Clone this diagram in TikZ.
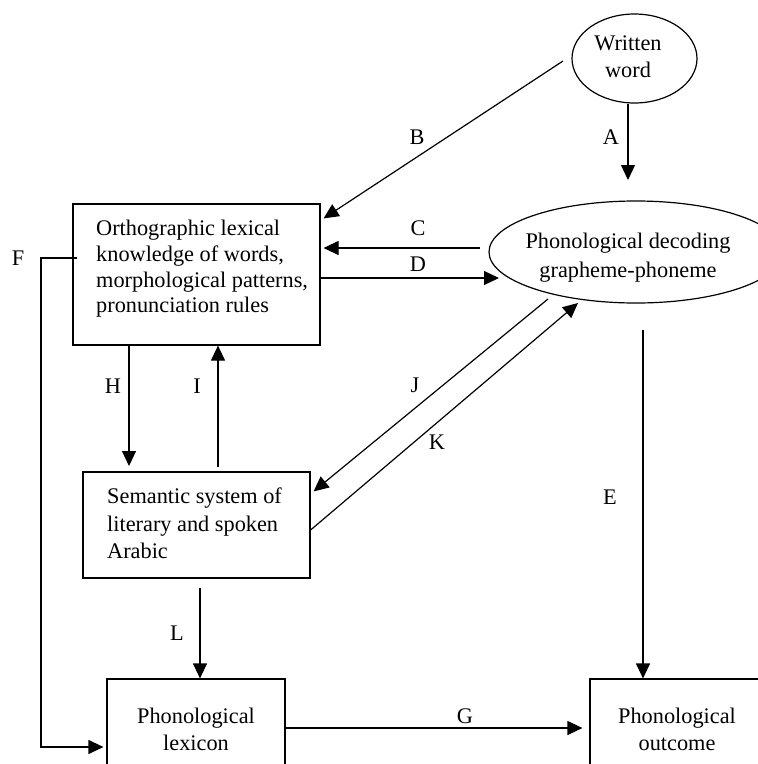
\documentclass[tikz,border=0pt]{standalone}
\usepackage{fontspec}
\setmainfont{Liberation Serif}
\usetikzlibrary{arrows.meta,shapes.geometric,calc}
\begin{document}
\begin{tikzpicture}[x=1pt,y=-1pt,
  every node/.style={font=\fontsize{22.3}{27}\selectfont, inner sep=0pt},
  box/.style={draw, line width=1.2pt, rectangle},
  oval/.style={draw, ellipse, line width=1.2pt},
  conn/.style={line width=1.2pt},
  arr/.style={conn, -{Triangle[length=15pt,width=14pt]}},
  lbl/.style={anchor=center}]
\useasboundingbox (0,0) rectangle (758,764);
\clip (0,0) rectangle (758,764);

% nodes
\node[oval, minimum width=125pt, minimum height=89pt] (ww) at (634.5,58.5) {};
\node[align=center] (wwt) at (628,57) {Written\\word};

\node[oval, minimum width=294pt, minimum height=102pt] (pd) at (636,252) {};
\node[align=center, font=\fontsize{22.3}{29}\selectfont] (pdt) at (628,258) {Phonological decoding\\grapheme-phoneme};

\node[box, minimum width=247pt, minimum height=141pt] (ortho) at (196.5,274.5) {};
\node[align=left, anchor=north west, font=\fontsize{22.3}{25.7}\selectfont] (orthot) at (96,220)
  {Orthographic lexical\\knowledge of words,\\morphological patterns,\\pronunciation rules};

\node[box, minimum width=227pt, minimum height=106pt] (sem) at (196.5,525) {};
\node[align=left, anchor=north west, font=\fontsize{22.3}{27.5}\selectfont] (semt) at (107,488)
  {Semantic system of\\literary and spoken\\Arabic};

\node[box, minimum width=178pt, minimum height=101pt, align=center] (lexicon) at (196,729.5) {Phonological\\lexicon};
\node[box, minimum width=174pt, minimum height=101pt, align=center] (outcome) at (677,729.5) {Phonological\\outcome};

% connector end points
\coordinate (aE) at (628,180);
\coordinate (bS) at (563,61);
\coordinate (cS) at (480,248);
\coordinate (dE) at (499,278);
\coordinate (eS) at (643,330);
\coordinate (fY) at (41,258);
\coordinate (fC) at (41,747);
\coordinate (hX) at (129,466);
\coordinate (iX) at (218,467);
\coordinate (jS) at (548,299);
\coordinate (kE) at (578,303);
\coordinate (lS) at (200,588);

% connectors
\draw[arr] ($(ww.south)+(-6.5,0)$) -- (aE);
\draw[arr] (bS) -- ($(ortho.north east)+(3,15)$);
\draw[arr] (cS) -- ($(cS -| ortho.east)+(3,0)$);
\draw[arr] (dE -| ortho.east) -- (dE);
\draw[arr] (eS) -- (eS |- outcome.north);
\draw[arr] ($(fY -| ortho.west)+(5,0)$) -- (fY) -- (fC) -- ($(fC -| lexicon.west)+(-3,0)$);
\draw[arr] ($(lexicon.east)+(-2,-1.5)$) -- ($(outcome.west)+(-7,-1.5)$);
\draw[arr] (hX |- ortho.south) -- (hX);
\draw[arr] (iX) -- (iX |- ortho.south);
\draw[arr] (jS) -- ($(sem.north east)+(3,20)$);
\draw[arr] ($(sem.east)+(0,5)$) -- (kE);
\draw[arr] (lS) -- (lS |- lexicon.north);

% labels
\node[lbl] (labA) at (611,137) {A};
\node[lbl] (labB) at (417,137) {B};
\node[lbl] (labC) at (418,228) {C};
\node[lbl] (labD) at (418,264) {D};
\node[lbl] (labE) at (610,497) {E};
\node[lbl] (labF) at (18,258) {F};
\node[lbl] (labG) at (465,716) {G};
\node[lbl] (labH) at (113,386) {H};
\node[lbl] (labI) at (197,386) {I};
\node[lbl] (labJ) at (415,385) {J};
\node[lbl] (labK) at (437,442) {K};
\node[lbl] (labL) at (177,633) {L};
\end{tikzpicture}
\end{document}
